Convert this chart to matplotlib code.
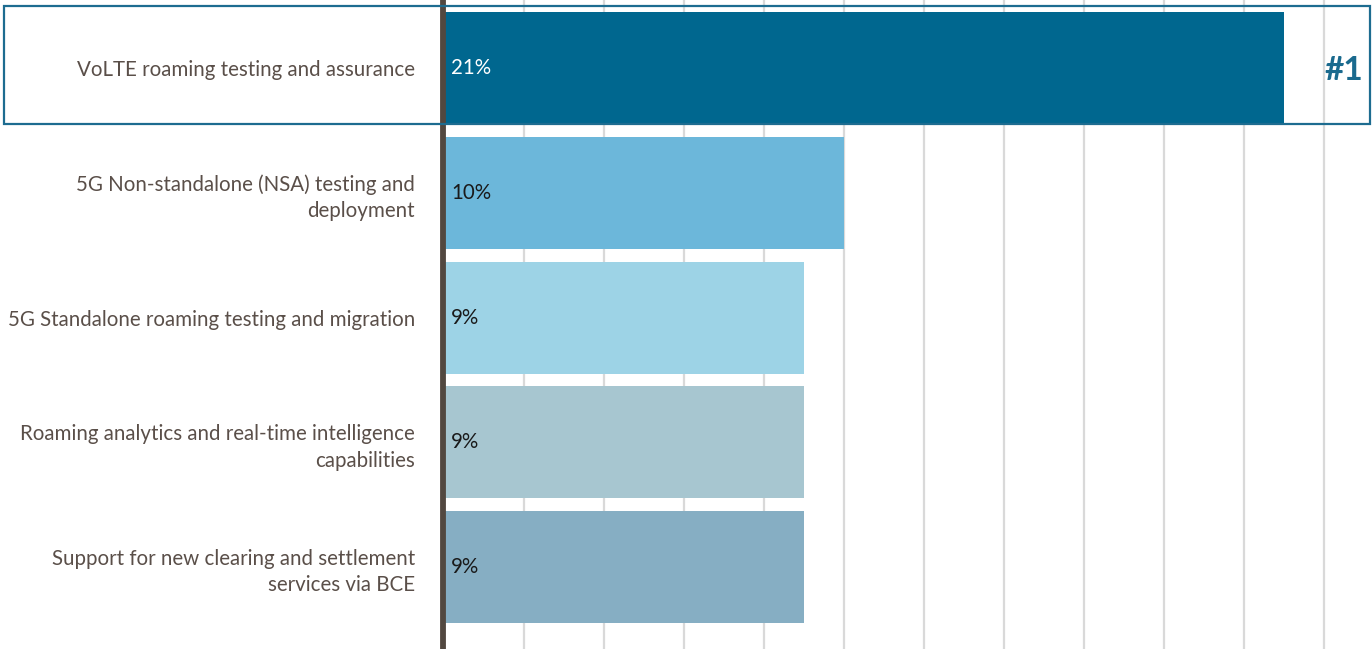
import matplotlib.pyplot as plt
from matplotlib.patches import Rectangle

categories = [
    "VoLTE roaming testing and assurance",
    "5G Non-standalone (NSA) testing and\ndeployment",
    "5G Standalone roaming testing and migration",
    "Roaming analytics and real-time intelligence\ncapabilities",
    "Support for new clearing and settlement\nservices via BCE",
]
shares = [21, 10, 9, 9, 9]
bar_colors = ["#00678f", "#6cb7da", "#9dd3e6", "#a7c6d0", "#86aec3"]
value_colors = ["white", "#1a1a1a", "#1a1a1a", "#1a1a1a", "#1a1a1a"]

plt.rcParams["font.family"] = ["Lato", "DejaVu Sans"]

W, H = 1372, 649
fig = plt.figure(figsize=(W / 100, H / 100), dpi=100)
x0 = 443.5
ax = fig.add_axes([x0 / W, 0, (W - x0) / W, 1])

pitch = 124.75
ypos = list(range(len(categories)))
ax.barh(ypos, shares, height=112 / pitch, color=bar_colors, zorder=3)

ax.set_xlim(0, (W - x0) / 40)
ax.set_ylim((H - 68) / pitch, -68 / pitch)

ax.set_xticks(range(2, 23, 2))
ax.grid(axis="x", color="#d9d9d9", linewidth=1.6, zorder=0)
ax.tick_params(axis="x", length=0, labelbottom=False)

ax.set_yticks(ypos)
ax.set_yticklabels(categories, fontsize=14.8, color="#5a4f49", linespacing=1.4)
ax.tick_params(axis="y", length=0, pad=20.5)

for s in ["top", "right", "bottom"]:
    ax.spines[s].set_visible(False)
ax.spines["left"].set_color("#524840")
ax.spines["left"].set_linewidth(4.2)
ax.spines["left"].set_zorder(5)

for y, v, c in zip(ypos, shares, value_colors):
    ax.annotate(f"{v}%", (0, y), xytext=(5.5, 0), textcoords="offset points",
                va="center", ha="left", fontsize=14.8, color=c, zorder=4)

# frame around the top-ranked item
fig.patches.append(Rectangle((4 / W, 1 - 124 / H), (1370 - 4) / W, 118 / H,
                             transform=fig.transFigure, fill=False,
                             edgecolor="#1d6c90", linewidth=1.6, zorder=6))
fig.text(1344 / W, 1 - 70 / H, "#1", ha="center", va="center",
         fontsize=24, fontweight="bold", color="#1a6a8e")

fig.savefig("out.png", dpi=100)
